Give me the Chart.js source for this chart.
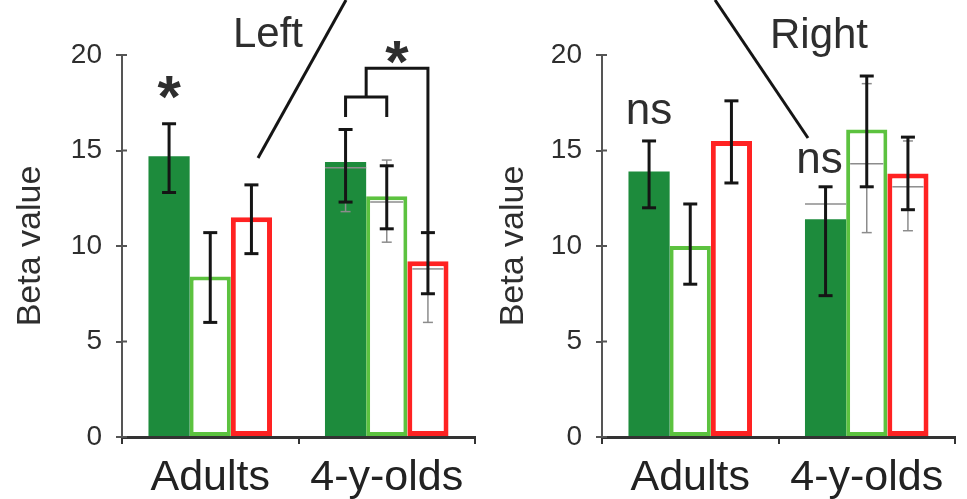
<!DOCTYPE html>
<html>
<head>
<meta charset="utf-8">
<script src="https://cdn.jsdelivr.net/npm/chart.js@4.4.1/dist/chart.umd.min.js"></script>
<style>
  html, body { margin: 0; padding: 0; background: #fff; width: 967px; height: 499px; overflow: hidden; }
  canvas { position: absolute; top: 0; }
  #left { left: 0; }
  #right { left: 483px; }
</style>
</head>
<body>
<canvas id="left" width="483" height="499"></canvas>
<canvas id="right" width="484" height="499"></canvas>
<script>
// ---- data ----------------------------------------------------------
const categories = ['Adults', '4-y-olds'];
const yTicks = [0, 5, 10, 15, 20];

// Left hemisphere: mean beta and error-bar ends per condition
const leftDark = [14.7, 14.4];
const leftDarkHi = [16.4, 16.1];
const leftDarkLo = [12.8, 12.3];
const leftLight = [8.4, 12.6];
const leftLightHi = [10.7, 14.2];
const leftLightLo = [6.0, 10.9];
const leftRed = [11.5, 9.2];
const leftRedHi = [13.2, 10.7];
const leftRedLo = [9.6, 7.5];
// faint second estimate drawn inside the 4-y-old bars (dark, light, red)
const leftInner = [[null, 14.1], [null, 12.3], [null, 8.8]];
const leftInnerLo = [[null, 11.8], [null, 10.2], [null, 6.0]];
const leftInnerHi = [[null, 16.1], [null, 14.5], [null, 10.7]];

// Right hemisphere
const rightDark = [13.9, 11.4];
const rightDarkHi = [15.5, 13.1];
const rightDarkLo = [12.0, 7.4];
const rightLight = [10.0, 16.1];
const rightLightHi = [12.2, 18.9];
const rightLightLo = [8.0, 13.1];
const rightRed = [15.5, 13.8];
const rightRedHi = [17.6, 15.7];
const rightRedLo = [13.3, 11.9];
const rightInner = [[null, 12.2], [null, 14.3], [null, 13.1]];
const rightInnerLo = [[null, 7.4], [null, 10.7], [null, 10.8]];
const rightInnerHi = [[null, 13.1], [null, 18.5], [null, 15.5]];

// ---- style ---------------------------------------------------------
const DARK = '#1d8b3c';
const LIGHT = '#5cc23f';
const RED = '#ff2222';
const INK = '#151515';
const FAINT = '#8c8c8c';
const TEXT = '#2e2e2e';
const FONT = "'Liberation Sans', Arial, sans-serif";
Chart.defaults.font.family = FONT;

function datasetsFor(dark, darkHi, darkLo, light, lightHi, lightLo, red, redHi, redLo, inner, innerLo, innerHi) {
  return [
    { data: dark, hi: darkHi, lo: darkLo, inner: inner[0], innerLo: innerLo[0], innerHi: innerHi[0],
      backgroundColor: DARK, borderColor: DARK, borderWidth: 0 },
    { data: light, hi: lightHi, lo: lightLo, inner: inner[1], innerLo: innerLo[1], innerHi: innerHi[1],
      backgroundColor: '#ffffff', borderColor: LIGHT, borderWidth: 4, borderSkipped: false },
    { data: red, hi: redHi, lo: redLo, inner: inner[2], innerLo: innerLo[2], innerHi: innerHi[2],
      backgroundColor: '#ffffff', borderColor: RED, borderWidth: 5, borderSkipped: false }
  ];
}

function seg(ctx, x1, y1, x2, y2) {
  ctx.beginPath(); ctx.moveTo(x1, y1); ctx.lineTo(x2, y2); ctx.stroke();
}

// error bars (and the faint inner estimate) on top of the bars
const errorBars = {
  id: 'errorBars',
  afterDatasetsDraw(chart) {
    const ctx = chart.ctx, y = chart.scales.y;
    ctx.save();
    ctx.lineCap = 'butt';
    chart.data.datasets.forEach((ds, i) => {
      chart.getDatasetMeta(i).data.forEach((bar, j) => {
        const x = bar.x, half = bar.width / 2, inset = ds.borderWidth || 0;
        if (ds.inner && ds.inner[j] != null) {
          ctx.strokeStyle = FAINT; ctx.lineWidth = 1.5;
          const ym = y.getPixelForValue(ds.inner[j]);
          seg(ctx, bar.x - half + inset, ym, bar.x + half - inset, ym);
          const a = y.getPixelForValue(ds.innerLo[j]), b = y.getPixelForValue(ds.innerHi[j]);
          seg(ctx, x, a, x, b); seg(ctx, x - 5, a, x + 5, a); seg(ctx, x - 5, b, x + 5, b);
        }
        ctx.strokeStyle = INK; ctx.lineWidth = 3;
        const lo = y.getPixelForValue(ds.lo[j]), hi = y.getPixelForValue(ds.hi[j]);
        seg(ctx, x, lo, x, hi); seg(ctx, x - 7, lo, x + 7, lo); seg(ctx, x - 7, hi, x + 7, hi);
      });
    });
    ctx.restore();
  }
};

// significance labels, bracket, panel title and pointer line
const notes = {
  id: 'notes',
  afterDraw(chart, args, opts) {
    const ctx = chart.ctx, y = chart.scales.y, area = chart.chartArea;
    const barX = (s, c) => chart.getDatasetMeta(s).data[c].x;
    ctx.save();
    // small inward part of the y tick marks
    ctx.strokeStyle = '#555'; ctx.lineWidth = 2;
    yTicks.forEach(v => { const py = y.getPixelForValue(v); seg(ctx, area.left, py, area.left + 5, py); });

    ctx.fillStyle = TEXT;
    ctx.textAlign = 'center';
    ctx.textBaseline = 'alphabetic';
    (opts.labels || []).forEach(l => {
      ctx.font = (l.weight || 'normal') + ' ' + l.size + 'px ' + FONT;
      ctx.fillText(l.text, barX(l.series, l.cat) + (l.dx || 0), y.getPixelForValue(l.at));
    });

    if (opts.bracket) {
      const b = opts.bracket;
      const xa = barX(b.a[0], b.a[1]), xb = barX(b.b[0], b.b[1]), xc = barX(b.c[0], b.c[1]);
      const yLeg = y.getPixelForValue(b.legLow), yBar = y.getPixelForValue(b.legHigh);
      const yTop = y.getPixelForValue(b.top), yDrop = y.getPixelForValue(b.drop);
      const xm = (xa + xb) / 2;
      ctx.strokeStyle = INK; ctx.lineWidth = 3; ctx.lineJoin = 'miter';
      ctx.beginPath();
      ctx.moveTo(xa, yLeg); ctx.lineTo(xa, yBar); ctx.lineTo(xb, yBar); ctx.lineTo(xb, yLeg);
      ctx.stroke();
      ctx.beginPath();
      ctx.moveTo(xm, yBar); ctx.lineTo(xm, yTop); ctx.lineTo(xc, yTop); ctx.lineTo(xc, yDrop);
      ctx.stroke();
      ctx.font = 'bold ' + b.size + 'px ' + FONT;
      ctx.fillText(b.text, (xm + xc) / 2, y.getPixelForValue(b.textAt));
    }

    if (opts.title) {
      ctx.font = opts.title.size + 'px ' + FONT;
      ctx.fillText(opts.title.text, opts.title.x, opts.title.baseline);
    }
    if (opts.pointer) {
      const p = opts.pointer;
      ctx.strokeStyle = INK; ctx.lineWidth = 3;
      seg(ctx, p[0], p[1], p[2], p[3]);
    }
    ctx.restore();
  }
};

function panel(id, datasets, axisWidth, padRight, noteOpts) {
  return new Chart(document.getElementById(id), {
    type: 'bar',
    data: { labels: categories, datasets },
    options: {
      responsive: false,
      animation: false,
      devicePixelRatio: 1,
      categoryPercentage: 0.70,
      barPercentage: 1.0,
      layout: { padding: { top: 55, right: padRight, left: 0, bottom: 0 } },
      plugins: { legend: { display: false }, tooltip: { enabled: false }, notes: noteOpts },
      scales: {
        x: {
          offset: true,
          grid: { offset: true, drawOnChartArea: false, drawTicks: true, tickLength: 7, color: '#333', lineWidth: 2 },
          border: { color: '#333', width: 3 },
          ticks: { font: { size: 43 }, color: '#222', padding: 8, maxRotation: 0, autoSkip: false },
          afterFit(s) { s.height = 62; }
        },
        y: {
          min: 0, max: 20,
          afterBuildTicks(s) { s.ticks = yTicks.map(v => ({ value: v })); },
          grid: { drawOnChartArea: false, drawTicks: true, tickLength: 6, color: '#555', lineWidth: 2 },
          border: { color: '#555', width: 2 },
          ticks: { font: { size: 28 }, color: TEXT, padding: 14 },
          title: { display: true, text: 'Beta value', font: { size: 34 }, color: TEXT, padding: { top: 10, bottom: 0 } },
          afterFit(s) { s.width = axisWidth; }
        }
      }
    },
    plugins: [errorBars, notes]
  });
}

panel('left',
  datasetsFor(leftDark, leftDarkHi, leftDarkLo, leftLight, leftLightHi, leftLightLo,
              leftRed, leftRedHi, leftRedLo, leftInner, leftInnerLo, leftInnerHi),
  122, 8,
  {
    labels: [{ text: '*', series: 0, cat: 0, at: 16.75, size: 60, weight: 'bold' }],
    bracket: { a: [0, 1], b: [1, 1], c: [2, 1], legLow: 16.75, legHigh: 17.8, top: 19.3, drop: 10.7,
               text: '*', textAt: 18.6, size: 60 },
    title: { text: 'Left', x: 268, baseline: 47, size: 42 },
    pointer: [346, 0, 258, 158]
  });

panel('right',
  datasetsFor(rightDark, rightDarkHi, rightDarkLo, rightLight, rightLightHi, rightLightLo,
              rightRed, rightRedHi, rightRedLo, rightInner, rightInnerLo, rightInnerHi),
  119, 12,
  {
    labels: [
      { text: 'ns', series: 0, cat: 0, at: 16.4, size: 44 },
      { text: 'ns', series: 0, cat: 1, at: 13.8, size: 44, dx: -6 }
    ],
    title: { text: 'Right', x: 336, baseline: 48, size: 42 },
    pointer: [232, 0, 325, 138]
  });
</script>
</body>
</html>
